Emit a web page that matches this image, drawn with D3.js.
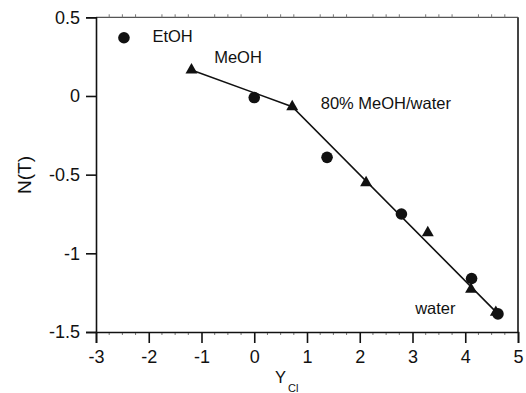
<!DOCTYPE html>
<html>
<head>
<meta charset="utf-8">
<script src="https://cdn.jsdelivr.net/npm/d3@7"></script>
<style>
  html, body { margin: 0; padding: 0; background: #fff; }
  svg { display: block; font-family: "Liberation Sans", Arial, Helvetica, sans-serif; }
</style>
</head>
<body>
<div id="chart"></div>
<script>
// ---- data ----
const xTicks = [-3, -2, -1, 0, 1, 2, 3, 4, 5];
const yTicks = [0.5, 0, -0.5, -1, -1.5];
const yTickLabels = ["0.5", "0", "-0.5", "-1", "-1.5"];

// circle series (x = Y_Cl, y = N(T))
const circleX = [0.0, 1.38, 2.79, 4.12, 4.62];
const circleY = [-0.01, -0.39, -0.75, -1.16, -1.385];

// triangle series
const triX = [-1.19, 0.72, 2.12, 3.29, 4.11, 4.58];
const triY = [0.165, -0.068, -0.551, -0.869, -1.229, -1.375];

// fitted line vertices
const lineX = [-1.19, 0.72, 4.62];
const lineY = [0.165, -0.068, -1.385];

// legend / annotation
const legendX = [-2.47];
const legendY = [0.37];
const labels = [
  { text: "EtOH", x: -1.93, y: 0.34 },
  { text: "MeOH", x: -0.76, y: 0.21 },
  { text: "80% MeOH/water", x: 1.26, y: -0.08 },
  { text: "water", x: 3.05, y: -1.385 }
];

// ---- layout ----
const W = 526, H = 393;
const mLeft = 96, mRight = 518, mTop = 17.3, mBottom = 332;

const svg = d3.select("#chart").append("svg")
  .attr("width", W).attr("height", H);

const x = d3.scaleLinear().domain([-3, 5]).range([mLeft, mRight]);
const y = d3.scaleLinear().domain([-1.5, 0.5]).range([mBottom, mTop]);

// frame: top and right (grey)
svg.append("line").attr("x1", mLeft).attr("x2", mRight).attr("y1", mTop).attr("y2", mTop)
  .attr("stroke", "#555").attr("stroke-width", 1.3);
svg.append("line").attr("x1", mRight).attr("x2", mRight).attr("y1", mTop).attr("y2", mBottom)
  .attr("stroke", "#444").attr("stroke-width", 2);

// minor ticks
const minor = d3.range(-3, 5.001, 0.25).filter(v => Math.abs(v - Math.round(v)) > 1e-6);
svg.append("g").selectAll("line").data(minor).join("line")
  .attr("x1", d => x(d)).attr("x2", d => x(d))
  .attr("y1", mTop).attr("y2", mTop - 3)
  .attr("stroke", "#777").attr("stroke-width", 1);
svg.append("g").selectAll("line").data(minor).join("line")
  .attr("x1", d => x(d)).attr("x2", d => x(d))
  .attr("y1", mBottom).attr("y2", mBottom + 3)
  .attr("stroke", "#777").attr("stroke-width", 1);

// axes
const xAxis = d3.axisBottom(x).tickValues(xTicks).tickSize(11).tickPadding(7)
  .tickFormat(d => String(d));
const gx = svg.append("g").attr("transform", `translate(0,${mBottom})`).call(xAxis);
gx.select(".domain").attr("stroke", "#111").attr("stroke-width", 1.6);
gx.selectAll(".tick line").attr("stroke", "#111").attr("stroke-width", 1.6);
gx.selectAll("text").attr("font-size", 18).attr("fill", "#111")
  .attr("font-family", "Liberation Sans, Arial, sans-serif");

const yAxis = d3.axisLeft(y).tickValues(yTicks).tickSize(10).tickPadding(6)
  .tickFormat((d, i) => yTickLabels[i]);
const gy = svg.append("g").attr("transform", `translate(${mLeft},0)`).call(yAxis);
gy.select(".domain").attr("stroke", "#111").attr("stroke-width", 1.6);
gy.selectAll(".tick line").attr("stroke", "#111").attr("stroke-width", 1.6);
gy.selectAll("text").attr("font-size", 18).attr("fill", "#111")
  .attr("font-family", "Liberation Sans, Arial, sans-serif");

// fitted line
const lineData = lineX.map((v, i) => [v, lineY[i]]);
svg.append("path")
  .attr("d", d3.line().x(d => x(d[0])).y(d => y(d[1]))(lineData))
  .attr("fill", "none").attr("stroke", "#111").attr("stroke-width", 1.6);

// triangles
const triSym = d3.symbol().type(d3.symbolTriangle).size(62);
svg.append("g").selectAll("path").data(triX.map((v, i) => [v, triY[i]])).join("path")
  .attr("d", triSym)
  .attr("transform", d => `translate(${x(d[0])},${y(d[1])})`)
  .attr("fill", "#111");

// circles
svg.append("g").selectAll("circle").data(circleX.map((v, i) => [v, circleY[i]])).join("circle")
  .attr("cx", d => x(d[0])).attr("cy", d => y(d[1])).attr("r", 5.8)
  .attr("fill", "#111");

// legend marker
svg.append("circle").attr("cx", x(legendX[0])).attr("cy", y(legendY[0])).attr("r", 5.8)
  .attr("fill", "#111");

// labels
svg.append("g").selectAll("text").data(labels).join("text")
  .attr("x", d => x(d.x)).attr("y", d => y(d.y))
  .attr("font-size", 16.5).attr("fill", "#111")
  .text(d => d.text);

// axis titles
svg.append("text")
  .attr("transform", "translate(31,175) rotate(-90)")
  .attr("text-anchor", "middle").attr("font-size", 19).attr("fill", "#111")
  .text("N(T)");

const xt = svg.append("text").attr("x", 275).attr("y", 383)
  .attr("font-size", 16.5).attr("fill", "#111");
xt.append("tspan").text("Y");
xt.append("tspan").attr("font-size", 11).attr("dx", 2).attr("dy", 9).text("Cl");
</script>
</body>
</html>
